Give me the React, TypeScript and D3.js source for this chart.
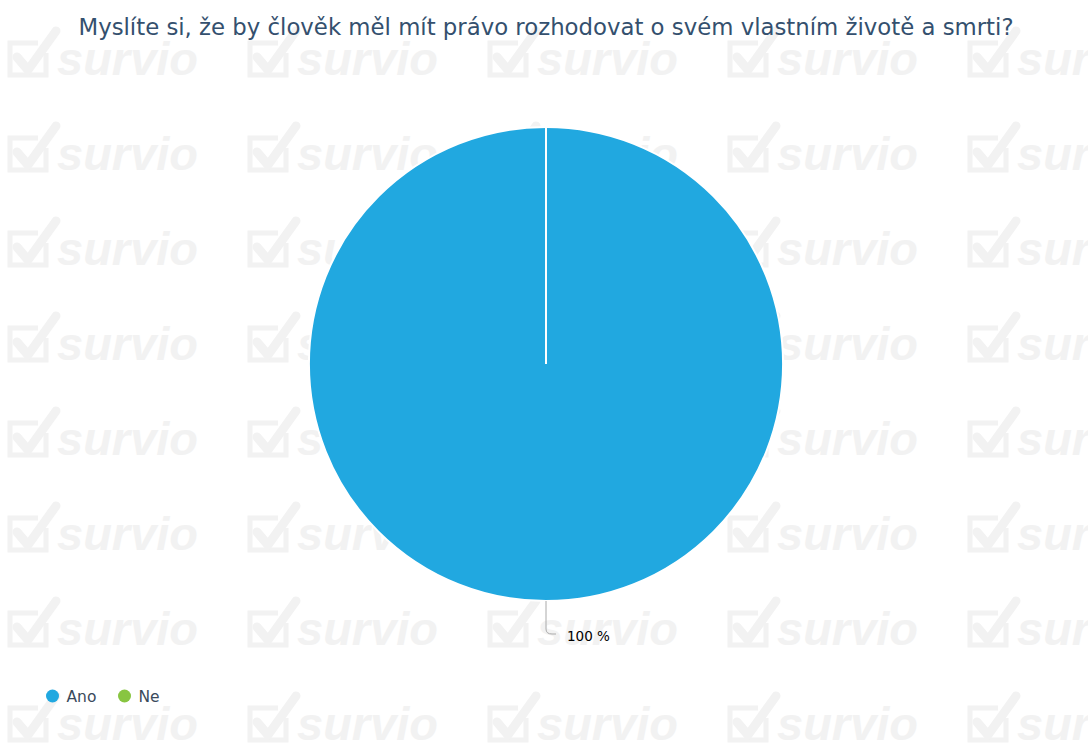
import React from "react";
import * as d3 from "d3";

const categories = ["Ano", "Ne"];
const values = [100, 0];
const colors = ["#21a8e0", "#88c541"];
const title = "Myslíte si, že by člověk měl mít právo rozhodovat o svém vlastním životě a smrti?";
const pctLabel = "100 %";

const W = 1088, H = 745;
const cx = 546, cy = 364, R = 237;

function Watermark({ x, y }: { x: number; y: number }) {
  const c = "#f2f2f2";
  return (
    <g transform={`translate(${x},${y})`}>
      <path d="M36,-22 L36,0 L0,0 L0,-32 L28,-32" fill="none" stroke={c} strokeWidth={5} />
      <path d="M7,-18 L18,-5 L46,-44" fill="none" stroke={c} strokeWidth={9} strokeLinecap="round" strokeLinejoin="round" />
      <text x={47} y={0} fontFamily="Liberation Sans, Arial, sans-serif" fontWeight="bold" fontStyle="italic" fontSize={47} fill={c}>survio</text>
    </g>
  );
}

export default function App() {
  const pie = d3.pie<number>().sort(null).value((d) => d)(values);
  const arc = d3.arc<d3.PieArcDatum<number>>().innerRadius(0).outerRadius(R);
  const wm: JSX.Element[] = [];
  for (let i = 0; i < 5; i++) {
    for (let j = 0; j < 8; j++) {
      wm.push(<Watermark key={`${i}-${j}`} x={10 + i * 240} y={75 + j * 95} />);
    }
  }
  return (
    <svg width={W} height={H} style={{ position: "absolute", left: 0, top: 0, background: "#fff" }}>
      <rect width={W} height={H} fill="#fff" />
      {wm}
      <text x={546} y={35} textAnchor="middle" fontFamily="DejaVu Sans, sans-serif" fontSize={22.8} fill="#34506e">{title}</text>
      <g transform={`translate(${cx},${cy})`}>
        {pie.map((p, i) => (
          <path key={i} d={arc(p) || ""} fill={colors[i]} stroke="#fff" strokeWidth={2} />
        ))}
        <line x1={0} y1={-R} x2={0} y2={0} stroke="#fff" strokeWidth={2} />
      </g>
      <path d={`M${cx},${cy + R} L${cx},${cy + R + 28} Q${cx},${cy + R + 33} ${cx + 6},${cy + R + 33} L${cx + 10},${cy + R + 33}`} fill="none" stroke="#aaa" strokeWidth={1} />
      <text x={567} y={641} fontFamily="DejaVu Sans, sans-serif" fontSize={13.5} fill="#000">{pctLabel}</text>
      {categories.map((c, i) => (
        <g key={c} transform={`translate(${52.5 + i * 72},696)`}>
          <circle cx={0} cy={0} r={6.5} fill={colors[i]} />
          <text x={14} y={6} fontFamily="DejaVu Sans, sans-serif" fontSize={15.5} fill="#3a4a5c">{c}</text>
        </g>
      ))}
    </svg>
  );
}
